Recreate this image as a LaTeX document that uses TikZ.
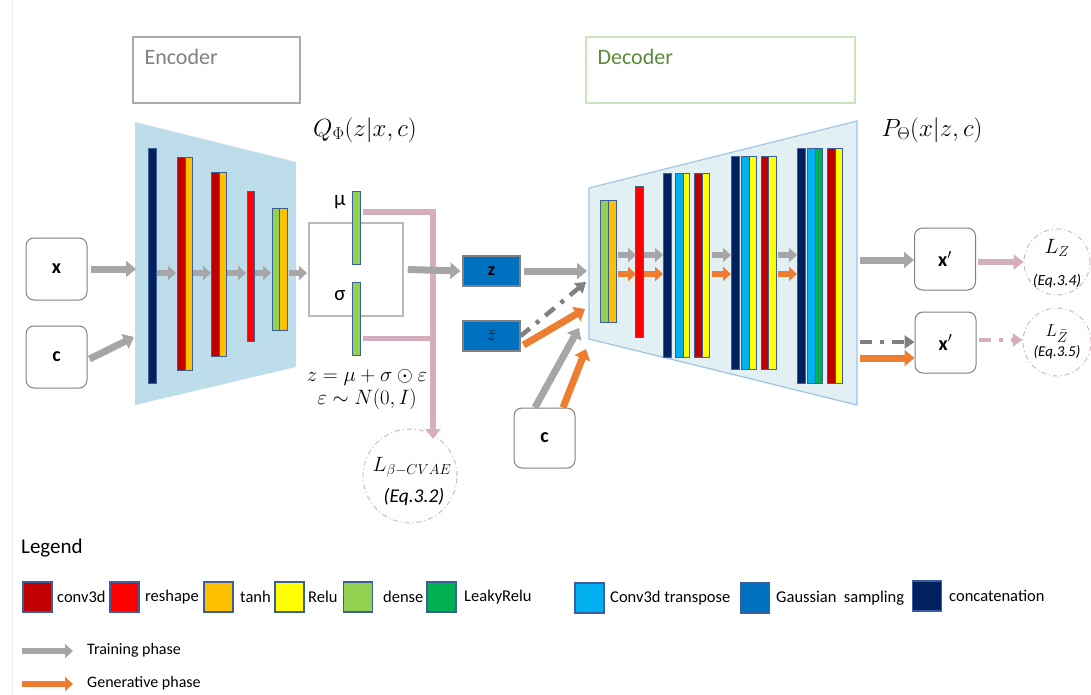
\documentclass[tikz,border=0pt]{standalone}
\usepackage{fontspec}
\setmainfont{Carlito}
\usetikzlibrary{arrows.meta}
\definecolor{cConv}{HTML}{C00000}
\definecolor{cRes}{HTML}{FF0000}
\definecolor{cTanh}{HTML}{FFC000}
\definecolor{cRelu}{HTML}{FFFF00}
\definecolor{cDense}{HTML}{92D050}
\definecolor{cLeaky}{HTML}{00B050}
\definecolor{cTrans}{HTML}{00B0F0}
\definecolor{cGauss}{HTML}{0070C0}
\definecolor{cCat}{HTML}{002060}
\definecolor{barb}{HTML}{3A5F9A}
\definecolor{agray}{HTML}{A6A6A6}
\definecolor{dgray}{HTML}{808080}
\definecolor{aorange}{HTML}{ED7D31}
\definecolor{apink}{HTML}{D5AEBE}
\definecolor{encfill}{HTML}{BEDDEA}
\definecolor{decfill}{HTML}{E2F0F4}
\definecolor{decline}{HTML}{9DC3E6}
\definecolor{enctext}{HTML}{7F7F7F}
\definecolor{dectext}{HTML}{5A8A3A}
\definecolor{decbox}{HTML}{C9E3BC}
\newcommand\lay[5]{\filldraw[lay,fill=#5] (#1,#3) rectangle (#2,#4);}
\begin{document}
\begin{tikzpicture}[x=1pt,y=-1pt,
  lay/.style={draw=barb,line width=0.8pt},
  garrow/.style={draw=agray,line width=7pt,-{Triangle[length=10pt,width=16pt]}},
  oarrow/.style={draw=aorange,line width=7pt,-{Triangle[length=10pt,width=16pt]}},
  sgarrow/.style={draw=agray,line width=6pt,-{Triangle[length=8pt,width=14pt]}},
  soarrow/.style={draw=aorange,line width=6pt,-{Triangle[length=8pt,width=14pt]}},
  parrow/.style={draw=apink,line width=6pt,-{Triangle[length=10pt,width=15pt]}},
  dgarrow/.style={draw=dgray,line width=4.5pt,dash pattern=on 12pt off 8pt on 4pt off 8pt,-{Triangle[length=10pt,width=13pt]}},
  dparrow/.style={draw=apink,line width=4.5pt,dash pattern=on 12pt off 8pt on 4pt off 8pt,-{Triangle[length=10pt,width=13pt]}},
  inbox/.style={draw=dgray,line width=1pt,rounded corners=8pt,fill=white,minimum width=61pt,minimum height=62pt,font=\fontsize{20}{24}\selectfont\bfseries},
  zbox/.style={draw=dgray,line width=1.2pt,fill=cGauss,minimum width=57pt,minimum height=30pt,font=\fontsize{18}{20}\selectfont},
  losscirc/.style={draw=apink,line width=0.9pt,dash pattern=on 5pt off 3pt on 1pt off 3pt,circle,inner sep=0pt,align=center},
  legsq/.style={draw=barb,line width=1.2pt,minimum width=29pt,minimum height=30pt,inner sep=0pt},
  legtxt/.style={anchor=west,font=\fontsize{16.5}{20}\selectfont,inner sep=0pt},
  lbl/.style={font=\fontsize{21}{24}\selectfont}]
\useasboundingbox (0,0) rectangle (1091,695);
\draw[black!8,line width=0.8pt] (12,0) -- (12,695);
% title boxes
\node[draw=black!33,line width=1.2pt,minimum width=167pt,minimum height=66pt,inner sep=0pt] (encT) at (216.5,70) {};
\node[anchor=west,text=enctext,font=\fontsize{22}{26}\selectfont] at (141,57) {Encoder};
\node[draw=decbox,line width=1.2pt,minimum width=269pt,minimum height=66pt,inner sep=0pt] (decT) at (720.5,70) {};
\node[anchor=west,text=dectext,font=\fontsize{22}{26}\selectfont] at (594,57) {Decoder};
% encoder trapezoid
\fill[encfill] (135,122) -- (296,162) -- (296,367) -- (135,405) -- cycle;
\lay{148}{156}{148}{383}{cCat}
\lay{177.5}{185}{157}{370}{cConv}\lay{185}{192.5}{157}{370}{cTanh}
\lay{211.5}{219}{172}{356}{cConv}\lay{219}{226.5}{172}{356}{cTanh}
\lay{247}{254.5}{191}{341}{cRes}
\lay{272}{279.5}{208}{330}{cDense}\lay{279.5}{287}{208}{330}{cTanh}
\foreach \a/\b in {157/176,193/211,227/246,255/271,289/307}
  \draw[sgarrow] (\a,273) -- (\b,273);
% inputs
\node[inbox] (x) at (56.5,269) {x};
\node[inbox] (c) at (56.5,357) {c};
\draw[garrow] ([xshift=3pt]x.east) -- (136,269);
\draw[garrow] ([shift={(2pt,-2pt)}]c.east) -- (134,337);
% sampling
\node[draw=black!27,line width=1.5pt,minimum width=94pt,minimum height=93pt,inner sep=0pt] (samp) at (356,269.5) {};
\lay{352}{360}{191}{264}{cDense}
\lay{352}{360}{282}{355}{cDense}
\node[lbl] at (340,202) {μ};
\node[lbl] at (340,296) {σ};
\node[font=\fontsize{23}{26}\selectfont] at (365,130) {$Q_\Phi(z|x,c)$};
\node[font=\fontsize{21}{24}\selectfont] at (367,377) {$z=\mu+\sigma\odot\varepsilon$};
\node[font=\fontsize{21}{24}\selectfont] at (367,399) {$\varepsilon\sim N(0,I)$};
% KL loss
\node[losscirc,minimum size=94pt] (Lb) at (410,476) {};
\node[font=\fontsize{21}{24}\selectfont] at (412,467) {$L_{\beta-CVAE}$};
\node[font=\fontsize{19.5}{22}\selectfont\itshape] at (414,497) {(Eq.3.2)};
\draw[draw=apink,line width=5pt] (363,338) -- (436,338);
\draw[parrow,line join=miter] (363,212) -| (433,439);
% latent boxes
\node[zbox] (z) at (491.5,271) {\bfseries z};
\node[zbox] (zb) at (491.5,336) {$\bar{z}$};
\draw[garrow] ([xshift=4pt]samp.east) -- ([xshift=-2pt]z.west);
% decoder trapezoid
\filldraw[fill=decfill,draw=decline,line width=1.2pt] (589,188) -- (857,121) -- (857,405) -- (589,339) -- cycle;
\lay{600.7}{608.7}{200.7}{322}{cDense}\lay{608.7}{616}{200.7}{322}{cTanh}
\lay{635.3}{643.3}{186.7}{337}{cRes}
\lay{663.3}{671}{173}{357}{cCat}
\lay{675.3}{683}{173}{357}{cTrans}\lay{683}{689.7}{173}{357}{cRelu}
\lay{694.3}{702}{173}{357}{cConv}\lay{702}{709.7}{173}{357}{cRelu}
\lay{731}{739}{156}{369.3}{cCat}
\lay{741.7}{749.3}{156}{369.3}{cTrans}\lay{749.3}{756.3}{156}{369.3}{cRelu}
\lay{761}{768.7}{156}{369.3}{cConv}\lay{768.7}{776.3}{156}{369.3}{cRelu}
\lay{797.3}{805}{148.3}{383.3}{cCat}
\lay{807.3}{815}{148.3}{383.3}{cTrans}\lay{815}{822.7}{148.3}{383.3}{cLeaky}
\lay{827.7}{835}{148.3}{383.3}{cConv}\lay{835}{842.3}{148.3}{383.3}{cRelu}
\foreach \a/\b in {618/636,644/663,712/731,778/797}{
  \draw[sgarrow] (\a,255) -- (\b,255);
  \draw[soarrow] (\a,274) -- (\b,274);}
\node[font=\fontsize{23}{26}\selectfont] at (932,130) {$P_\Theta(x|z,c)$};
% decoder inputs
\node[inbox,minimum height=60pt] (c2) at (544.5,438) {c};
\draw[garrow] ([xshift=3pt]z.east) -- (587,271);
\draw[dgarrow] (zb.east) -- (586,282);
\draw[oarrow] ([shift={(3pt,-9pt)}]zb.east) -- (585,309);
\draw[garrow] ([xshift=-9.5pt]c2.north) -- (579,328);
\draw[oarrow] ([xshift=18.5pt]c2.north) -- (586,349);
% outputs
\node[inbox] (xp1) at (945,259) {x$'$};
\node[inbox,minimum height=61pt] (xp2) at (945.5,342.5) {x$'$};
\draw[garrow] (860,260) -- ([yshift=-1pt]xp1.west);
\draw[dgarrow] (860,342) -- ([yshift=0.5pt]xp2.west);
\draw[oarrow] (860,358) -- ([yshift=-15.5pt]xp2.west);
\node[losscirc,minimum size=66pt] (LZ) at (1057,262) {};
\node[losscirc,minimum size=68pt,font=\fontsize{19}{21}\selectfont] (LZb) at (1057,342)
  {$L_{\bar{Z}}$\\[-1pt]{\fontsize{15}{17}\selectfont\itshape (Eq.3.5)}};
\draw[parrow] ([shift={(2pt,-3pt)}]xp1.east) -- ([yshift=0pt]LZ.west);
\draw[dparrow] ([shift={(2pt,2.5pt)}]xp2.east) -- ([yshift=2pt]LZb.west);
\node[font=\fontsize{21}{24}\selectfont] at (1057,248) {$L_{Z}$};
\node[font=\fontsize{15.5}{18}\selectfont\itshape] at (1057,281) {(Eq.3.4)};
% legend
\node[anchor=west,inner sep=0pt,font=\fontsize{21}{24}\selectfont] at (21,548) {Legend};
\node[legsq,fill=cConv] (l1) at (37.5,597) {};
\node[legtxt] at (57,597) {conv3d};
\node[legsq,fill=cRes] (l2) at (124.5,597) {};
\node[legtxt] at (145,597) {reshape};
\node[legsq,fill=cTanh] (l3) at (218.5,597) {};
\node[legtxt] at (240,597) {tanh};
\node[legsq,fill=cRelu] (l4) at (289.5,597) {};
\node[legtxt] at (308,597) {Relu};
\node[legsq,fill=cDense] (l5) at (358,597) {};
\node[legtxt] at (383,597) {dense};
\node[legsq,fill=cLeaky] (l6) at (441.5,597) {};
\node[legtxt] at (464,597) {LeakyRelu};
\node[legsq,fill=cTrans] (l7) at (589.5,598) {};
\node[legtxt] at (610,598) {Conv3d transpose};
\node[legsq,fill=cGauss] (l8) at (755,598) {};
\node[legtxt] at (776,598) {Gaussian\ \ sampling};
\node[legsq,fill=cCat] (l9) at (927,596) {};
\node[legtxt] at (949,596) {concatenation};
\coordinate (ta) at (22,651);
\coordinate (oa) at (22,684);
\draw[sgarrow] (ta) -- ++(51,0);
\draw[soarrow] (oa) -- ++(51,0);
\node[legtxt,font=\fontsize{16}{20}\selectfont] at (87,650) {Training phase};
\node[legtxt,font=\fontsize{16}{20}\selectfont] at (87,683) {Generative phase};
\end{tikzpicture}
\end{document}
